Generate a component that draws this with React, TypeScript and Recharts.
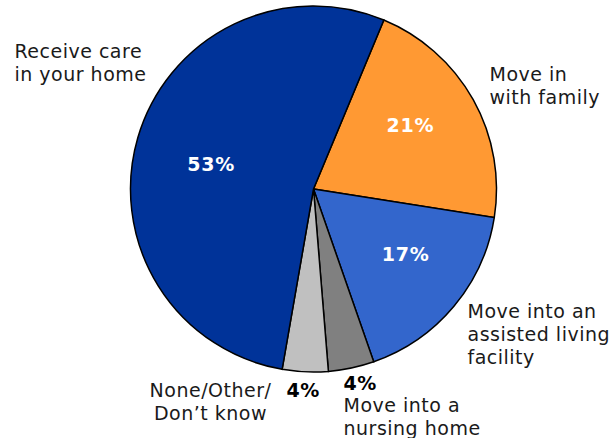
import React from 'react';
import { PieChart, Pie, Cell } from 'recharts';

const categories = [
  'Move in with family',
  'Move into an assisted living facility',
  'Move into a nursing home',
  'None/Other/ Don\u2019t know',
  'Receive care in your home',
];
const values = [21, 17, 4, 4, 53];
const colors = ['#FF9933', '#3366CC', '#808080', '#C0C0C0', '#003399'];
const labelLines = [
  ['Move in', 'with family'],
  ['Move into an', 'assisted living', 'facility'],
  ['Move into a', 'nursing home'],
  ['None/Other/', 'Don\u2019t know'],
  ['Receive care', 'in your home'],
];
const percentInside = [true, true, false, false, true];

const data = categories.map((name, i) => ({ name, value: values[i] }));

// layout for outside text: offsets from pie centre
const outside = [
  { dx: 176, dy: -108, anchor: 'start' },
  { dx: 154, dy: 129, anchor: 'start' },
  { dx: 30, dy: 223, anchor: 'start' },
  { dx: -103, dy: 208, anchor: 'middle' },
  { dx: -299, dy: -131, anchor: 'start' },
];
const pctOutside = [null, null, { dx: 30, dy: 201 }, { dx: -27, dy: 208 }, null];
const insideNudge = [
  { dx: 1, dy: -10 },
  { dx: 8, dy: -5 },
  null,
  null,
  { dx: 3, dy: 6 },
];

const FONT = 'DejaVu Sans, Verdana, sans-serif';
const RAD = Math.PI / 180;

const renderLabel = (props: any) => {
  const { cx, cy, midAngle, outerRadius, index } = props;
  const o = outside[index];
  const lh = 23;
  const pct = `${values[index]}%`;
  const r = outerRadius * 0.6;
  const n = insideNudge[index] || { dx: 0, dy: 0 };
  const ix = cx + r * Math.cos(-midAngle * RAD) + n.dx;
  const iy = cy + r * Math.sin(-midAngle * RAD) + n.dy;
  const po = pctOutside[index];
  return (
    <g key={`lbl-${index}`}>
      {percentInside[index] && (
        <text x={ix} y={iy} textAnchor="middle" dominantBaseline="central" fill="#fff" fontWeight="bold" fontSize={19} letterSpacing={0.8} fontFamily={FONT}>
          {pct}
        </text>
      )}
      {po && (
        <text x={cx + po.dx} y={cy + po.dy} textAnchor="start" fill="#000" fontWeight="bold" fontSize={19} letterSpacing={0.5} fontFamily={FONT}>
          {pct}
        </text>
      )}
      <text x={cx + o.dx} y={cy + o.dy} textAnchor={o.anchor} fill="#1a1a1a" fontSize={19} letterSpacing={0.5} fontFamily={FONT}>
        {labelLines[index].map((ln, k) => (
          <tspan key={k} x={cx + o.dx} dy={k === 0 ? 0 : lh}>{ln}</tspan>
        ))}
      </text>
    </g>
  );
};

export default function App() {
  return (
    <div style={{ position: 'absolute', left: 0, top: 0, width: 614, height: 438, background: '#fff' }}>
      <PieChart width={614} height={438} margin={{ top: 0, right: 0, bottom: 0, left: 0 }}>
        <Pie
          data={data}
          dataKey="value"
          nameKey="name"
          cx={313.5}
          cy={189}
          outerRadius={183}
          startAngle={67.4}
          endAngle={-292.6}
          stroke="#000"
          strokeWidth={1.5}
          label={renderLabel}
          labelLine={false}
          isAnimationActive={false}
        >
          {data.map((d, i) => (
            <Cell key={d.name} fill={colors[i]} />
          ))}
        </Pie>
      </PieChart>
    </div>
  );
}
